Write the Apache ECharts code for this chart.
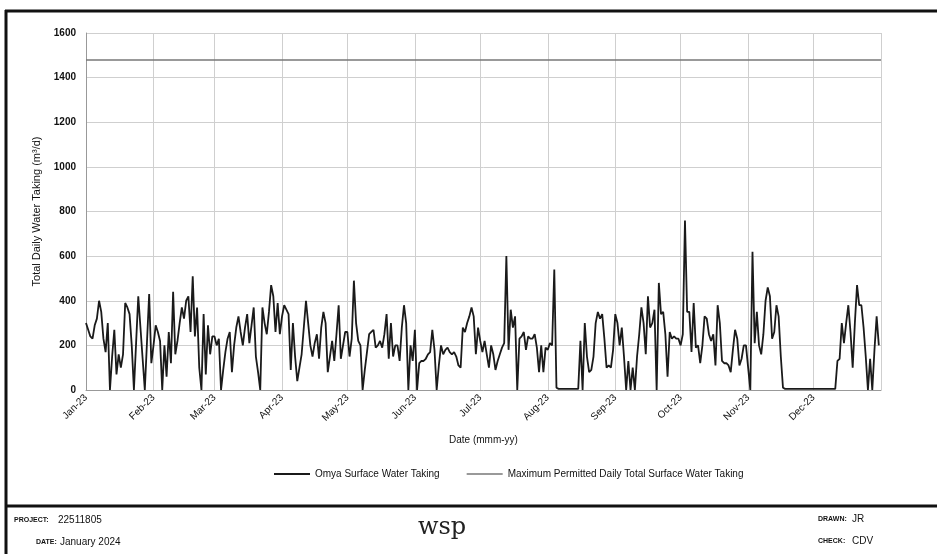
<!DOCTYPE html>
<html>
<head>
<meta charset="utf-8">
<title>Omya Surface Water Taking 2023</title>
<script src="https://cdn.jsdelivr.net/npm/echarts@6/dist/echarts.min.js"></script>
<style>
  html, body { margin: 0; padding: 0; background: #fff; }
  #chart { width: 937px; height: 554px; }
</style>
</head>
<body>
<div id="chart"></div>
<script>
// daily surface water taking (m3/d), one month at a time
const jan = [300, 270, 240, 230, 290, 320, 400, 350, 230, 170, 300, 0, 150, 270, 70, 160, 100, 160, 390, 370, 340, 200, 0, 210, 420, 280, 140, 0, 215, 430, 120];
const feb = [200, 290, 260, 220, 0, 200, 60, 260, 120, 440, 160, 220, 300, 370, 320, 400, 420, 260, 510, 240, 370, 100, 0, 340, 70, 290, 160, 240];
const mar = [240, 200, 230, 0, 90, 170, 230, 260, 80, 200, 280, 330, 260, 200, 280, 340, 210, 290, 370, 150, 80, 0, 370, 300, 250, 350, 470, 420, 260, 390, 250];
const apr = [330, 380, 360, 340, 90, 300, 150, 40, 100, 160, 280, 400, 300, 200, 150, 210, 250, 140, 280, 350, 300, 80, 150, 220, 130, 250, 380, 140, 200, 260];
const may = [260, 150, 230, 490, 300, 220, 200, 0, 90, 170, 250, 260, 270, 190, 200, 220, 190, 250, 340, 140, 300, 150, 200, 200, 130, 280, 380, 300, 0, 200, 130];
const jun = [270, 0, 120, 130, 130, 140, 160, 170, 270, 180, 0, 110, 200, 160, 180, 190, 170, 160, 170, 150, 110, 100, 280, 260, 300, 330, 370, 330, 160, 280];
const jul = [220, 170, 220, 160, 100, 200, 160, 90, 130, 160, 190, 210, 600, 180, 360, 280, 330, 0, 230, 240, 260, 180, 240, 230, 230, 250, 190, 80, 200, 80, 190];
const aug = [180, 210, 200, 540, 10, 5, 5, 5, 5, 5, 5, 5, 5, 5, 5, 220, 0, 300, 150, 80, 90, 150, 300, 350, 320, 340, 230, 100, 110, 100, 180];
const sep = [340, 300, 200, 280, 150, 0, 130, 0, 100, 0, 150, 250, 370, 300, 160, 420, 280, 300, 360, 0, 480, 340, 350, 250, 60, 260, 230, 240, 230, 230];
const oct = [200, 250, 760, 350, 350, 170, 390, 190, 200, 120, 200, 330, 320, 250, 220, 250, 110, 380, 300, 130, 120, 120, 110, 80, 180, 270, 230, 110, 140, 200, 200];
const nov = [100, 0, 620, 210, 350, 200, 160, 250, 400, 460, 420, 230, 260, 380, 330, 150, 10, 5, 5, 5, 5, 5, 5, 5, 5, 5, 5, 5, 5, 5];
const dec = [5, 5, 5, 5, 5, 5, 5, 5, 5, 5, 5, 130, 140, 300, 210, 300, 380, 260, 100, 300, 470, 380, 380, 280, 150, 0, 140, 0, 180, 330, 200];

const months = [jan, feb, mar, apr, may, jun, jul, aug, sep, oct, nov, dec];
const monthLabels = ['Jan-23', 'Feb-23', 'Mar-23', 'Apr-23', 'May-23', 'Jun-23', 'Jul-23', 'Aug-23', 'Sep-23', 'Oct-23', 'Nov-23', 'Dec-23', 'Jan-24'];
const maxPermitted = 1482;

// one category per day, plus 1 Jan 2024 so the plot closes with a gridline
const categories = [];
const monthStarts = new Set();
const taking = [];
months.forEach((days, m) => {
  days.forEach((v, d) => {
    if (d === 0) monthStarts.add(categories.length);
    categories.push(monthLabels[m] + '/' + (d + 1));
    taking.push(v);
  });
});
monthStarts.add(categories.length);
categories.push(monthLabels[12] + '/1');
const lastIndex = categories.length - 1;

const font = '"Liberation Sans", Arial, sans-serif';
const gridColor = '#cfcfcf';

const chart = echarts.init(document.getElementById('chart'));

chart.setOption({
  animation: false,
  textStyle: { fontFamily: font },
  grid: { left: 86, right: 56, top: 33, bottom: 164 },
  legend: {
    top: 464,
    left: 268,
    itemWidth: 36,
    itemHeight: 2,
    itemGap: 26,
    textStyle: { fontSize: 10, color: '#111', fontFamily: font },
    data: ['Omya Surface Water Taking', 'Maximum Permitted Daily Total Surface Water Taking']
  },
  xAxis: {
    type: 'category',
    data: categories,
    boundaryGap: false,
    name: 'Date (mmm-yy)',
    nameLocation: 'middle',
    nameGap: 45,
    nameTextStyle: { fontSize: 10, color: '#111' },
    axisLine: { lineStyle: { color: '#999' } },
    axisTick: { show: false },
    axisLabel: {
      interval: (i) => monthStarts.has(i) && i !== lastIndex,
      rotate: 45,
      fontSize: 10,
      color: '#111',
      margin: 6,
      formatter: (v) => v.split('/')[0]
    },
    splitLine: {
      show: true,
      interval: (i) => monthStarts.has(i),
      lineStyle: { color: gridColor }
    }
  },
  yAxis: {
    type: 'value',
    min: 0,
    max: 1600,
    interval: 200,
    name: 'Total Daily Water Taking (m\u00b3/d)',
    nameLocation: 'middle',
    nameGap: 41,
    nameTextStyle: { fontSize: 11, color: '#111' },
    axisLine: { show: true, lineStyle: { color: '#999' } },
    axisTick: { show: false },
    axisLabel: { fontSize: 10, fontWeight: 'bold', color: '#111', margin: 10, formatter: (v) => String(v) },
    splitLine: { lineStyle: { color: gridColor } }
  },
  series: [
    {
      name: 'Omya Surface Water Taking',
      type: 'line',
      data: taking,
      symbol: 'none',
      itemStyle: { color: '#1a1a1a' },
      lineStyle: { color: '#1a1a1a', width: 1.8 }
    },
    {
      name: 'Maximum Permitted Daily Total Surface Water Taking',
      type: 'line',
      data: [],
      symbol: 'none',
      itemStyle: { color: '#999' },
      lineStyle: { color: '#999', width: 1.5 },
      markLine: {
        silent: true,
        symbol: 'none',
        label: { show: false },
        lineStyle: { color: '#777', width: 1.5, type: 'solid' },
        data: [{ yAxis: maxPermitted }]
      }
    }
  ],
  graphic: [
    // drawing frame
    { type: 'line', shape: { x1: 5, y1: 11, x2: 937, y2: 11 }, style: { stroke: '#111', lineWidth: 3 } },
    { type: 'line', shape: { x1: 6, y1: 10, x2: 6, y2: 554 }, style: { stroke: '#111', lineWidth: 3 } },
    { type: 'line', shape: { x1: 6, y1: 506, x2: 937, y2: 506 }, style: { stroke: '#111', lineWidth: 3 } },
    // title block
    { type: 'text', left: 14, top: 517, style: { text: 'PROJECT:', font: 'bold 7px ' + font, fill: '#111' } },
    { type: 'text', left: 58, top: 515, style: { text: '22511805', font: '10px ' + font, fill: '#111' } },
    { type: 'text', left: 36, top: 539, style: { text: 'DATE:', font: 'bold 7px ' + font, fill: '#111' } },
    { type: 'text', left: 60, top: 537, style: { text: 'January 2024', font: '10px ' + font, fill: '#111' } },
    { type: 'text', left: 418, top: 516, style: { text: 'wsp', font: '24px "DejaVu Serif", serif', fill: '#222' } },
    { type: 'text', left: 818, top: 516, style: { text: 'DRAWN:', font: 'bold 7px ' + font, fill: '#111' } },
    { type: 'text', left: 852, top: 514, style: { text: 'JR', font: '10px ' + font, fill: '#111' } },
    { type: 'text', left: 818, top: 538, style: { text: 'CHECK:', font: 'bold 7px ' + font, fill: '#111' } },
    { type: 'text', left: 852, top: 536, style: { text: 'CDV', font: '10px ' + font, fill: '#111' } }
  ]
});
</script>
</body>
</html>
